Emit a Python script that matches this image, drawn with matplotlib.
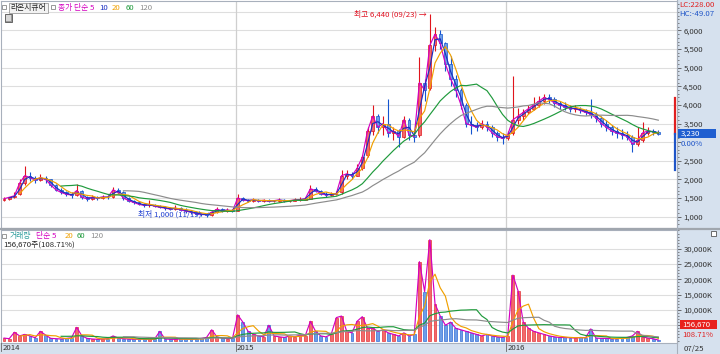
import numpy as np
import pandas as pd
import matplotlib
matplotlib.use('Agg')
import matplotlib.pyplot as plt
from matplotlib.patches import Rectangle
from matplotlib.lines import Line2D
from matplotlib.ticker import FuncFormatter, MultipleLocator, FixedLocator
from matplotlib.transforms import blended_transform_factory

plt.rcParams['font.family'] = ['Noto Sans CJK KR', 'DejaVu Sans']

# ---------------- data (weekly bars) ----------------
opens = [1450,1480,1520,1600,1900,2100,2050,1980,2050,2000,
         1850,1720,1650,1600,1580,1700,1520,1480,1520,1500,
         1530,1520,1720,1650,1500,1430,1380,1330,1300,1320,
         1280,1250,1230,1200,1230,1180,1150,1120,1080,1060,
         1050,1120,1200,1150,1180,1160,1500,1450,1430,1450,
         1420,1440,1410,1430,1450,1420,1430,1450,1460,1480,
         1750,1700,1620,1580,1600,1650,2100,2150,2100,2300,
         2650,3300,3700,3400,3500,3250,3300,3150,3600,3200,
         3200,4600,4450,5600,5900,5650,5100,4700,4400,4000,
         3500,3450,3400,3500,3400,3250,3150,3100,3250,3600,
         3700,3800,3900,4000,4100,4200,4150,4050,4000,3950,
         3900,3900,3850,3800,3750,3650,3500,3400,3300,3250,
         3200,3150,2950,3050,3250,3300,3280]
closes = [1480,1520,1560,1900,2100,2050,1980,2050,2000,1850,
          1720,1650,1600,1580,1700,1520,1480,1520,1500,1530,
          1520,1720,1650,1500,1430,1380,1330,1300,1320,1280,
          1250,1230,1200,1230,1180,1150,1120,1080,1060,1050,
          1120,1200,1150,1180,1150,1500,1450,1430,1450,1420,
          1440,1410,1430,1450,1420,1430,1450,1460,1480,1750,
          1700,1620,1580,1600,1620,2100,2150,2100,2300,2600,
          3300,3700,3400,3500,3250,3300,3150,3600,3200,3150,
          4600,4400,5600,5900,5650,5100,4700,4400,4000,3500,
          3450,3400,3500,3400,3250,3150,3100,3200,3600,3700,
          3800,3900,4000,4100,4200,4150,4050,4000,3950,3900,
          3900,3850,3800,3750,3650,3500,3400,3300,3250,3200,
          3150,2950,3050,3250,3300,3280,3230]
highs = [1520,1540,1650,2000,2350,2200,2100,2150,2080,2020,
         1880,1760,1700,1650,1880,1720,1560,1580,1560,1580,
         1570,1790,1760,1680,1520,1460,1420,1360,1440,1340,
         1310,1290,1250,1300,1260,1220,1180,1150,1110,1100,
         1150,1260,1220,1230,1210,1620,1540,1480,1490,1480,
         1480,1470,1460,1500,1480,1460,1500,1520,1530,1850,
         1800,1720,1650,1660,1680,2250,2260,2200,2400,2650,
         3400,3990,3750,3700,4160,3400,3350,3700,3650,3300,
         5280,4700,6440,6100,6000,5700,5300,4800,4450,4050,
         3700,3550,3600,3570,3450,3300,3250,3300,4780,3930,
         3900,4000,4200,4250,4300,4280,4200,4100,4080,4000,
         4000,3950,3900,4150,3800,3700,3600,3450,3400,3350,
         3300,3200,3400,3550,3400,3350,3320]
lows = [1430,1450,1500,1580,1850,1950,1900,1950,1900,1800,
        1680,1600,1550,1500,1560,1480,1420,1460,1450,1480,
        1480,1500,1600,1460,1400,1340,1300,1260,1270,1250,
        1220,1190,1170,1180,1150,1110,1080,1040,1030,1000,
        1030,1100,1120,1130,1120,1150,1420,1400,1400,1390,
        1390,1380,1390,1400,1390,1390,1410,1420,1440,1470,
        1650,1580,1540,1550,1570,1620,2000,2000,2080,2250,
        2600,3200,3250,3200,3150,3050,2870,3100,3050,3000,
        3150,4100,4400,5450,5500,4900,4500,4200,3900,3400,
        3220,3300,3350,3300,3150,3040,2950,3050,3200,3480,
        3600,3750,3850,3950,4020,4050,3950,3900,3850,3800,
        3800,3780,3720,3650,3550,3400,3300,3200,3100,3080,
        3050,2730,2900,3000,3200,3200,3200]
volumes_k = [800,600,2700,1500,2000,1500,900,3000,1800,700,
             600,500,700,900,4300,1500,700,500,400,500,
             600,1500,800,600,500,400,400,500,400,500,
             3000,500,400,400,500,400,400,500,700,1000,
             3500,1200,800,600,700,8400,6000,3000,2000,1500,
             1200,5000,1500,1200,1000,1500,1200,1800,1500,6300,
             3000,1500,1200,2000,7500,8000,3000,2500,6300,7800,
             4000,4000,3000,3500,2500,2000,1500,2500,1500,2000,
             25800,16000,33000,12000,8000,5000,6000,4000,3500,3000,
             2500,2000,1500,2000,1500,1200,1000,1500,21400,16200,
             6000,4000,3000,2500,2000,1500,1200,1000,1000,900,
             800,1000,900,3800,800,700,700,600,600,800,
             1000,1500,3000,1200,800,600,157]

price_ma_days = [5, 10, 20, 60, 120]
vol_ma_days = [5, 20, 60, 120]
year_labels = ['2014', '2015', '2016']
year_pos = [-0.55, 44.6, 96.7]
price_ticks = [1000,1500,2000,2500,3000,3500,4000,4500,5000,5500,6000]
vol_ticks = [5000,10000,15000,20000,25000,30000]
limit_up, limit_down = 4195, 2265
last_price, last_vol = 3230, 156670

# ---------------- figure ----------------
W, H = 720, 354
fig = plt.figure(figsize=(7.2, 3.54), dpi=100)
def fr(x0, y0, x1, y1):
    return [x0 / W, 1 - y1 / H, (x1 - x0) / W, (y1 - y0) / H]
def fx(x): return x / W
def fy(y): return 1 - y / H

PANEL = '#d6e1ee'
fig.patches.append(Rectangle((fx(677), 0), 1 - fx(677), 1, transform=fig.transFigure,
                             facecolor=PANEL, edgecolor='none', zorder=-2))
fig.patches.append(Rectangle((0, 0), fx(677), fy(343), transform=fig.transFigure,
                             facecolor=PANEL, edgecolor='none', zorder=-2))

ax = fig.add_axes(fr(1, 1, 677, 228))
axv = fig.add_axes(fr(1, 230, 677, 343), sharex=ax)

O = np.array(opens, float); C = np.array(closes, float)
Hh = np.array(highs, float); L = np.array(lows, float)
V = np.array(volumes_k, float)
n = len(C)
x = np.arange(n)
up = C >= O
UP_E, UP_F = '#e0141c', '#f26a6a'
DN_E, DN_F = '#1455d0', '#6c9ee6'
edge = np.where(up, UP_E, DN_E)
face = np.where(up, UP_F, DN_F)

for a in (ax, axv):
    a.set_facecolor('white')
    for s in a.spines.values():
        s.set_color('#a8b0bc'); s.set_linewidth(0.8)

# grids
for t in price_ticks + [6500]:
    ax.axhline(t, color='#dedede', lw=0.8, zorder=0)
for t in vol_ticks:
    axv.axhline(t, color='#dedede', lw=0.8, zorder=0)
for p in year_pos[1:]:
    ax.axvline(p, color='#cfcfcf', lw=0.9, zorder=0)
    axv.axvline(p, color='#cfcfcf', lw=0.9, zorder=0)

# candles
ax.vlines(x, L, Hh, colors=edge, lw=0.8, zorder=2)
body = np.maximum(np.abs(C - O), 12)
ax.bar(x, body, bottom=np.minimum(O, C), width=0.55, color=face,
       edgecolor=edge, linewidth=0.5, zorder=3)

ma_colors = ['#d400c0', '#1b2fc2', '#f0a000', '#1f9a3c', '#8c8c8c']
cs = pd.Series(C)
for d, col in zip(price_ma_days, ma_colors):
    w = max(1, int(round(d / 5)))
    ax.plot(x, cs.rolling(w).mean(), color=col, lw=0.85, zorder=4)

# volume
axv.bar(x, V, width=0.55, color=face, edgecolor=edge, linewidth=0.4, zorder=2)
vs = pd.Series(V)
vma_colors = ['#d400c0', '#f0a000', '#1f9a3c', '#8c8c8c']
for d, col in zip(vol_ma_days, vma_colors):
    w = max(1, int(round(d / 5)))
    axv.plot(x, vs.rolling(w).mean(), color=col, lw=0.85, zorder=3)

# limits
ax.set_xlim(-0.58, 129.6)
ax.set_ylim(695, 6790)
axv.set_ylim(-811, 36160)

FS = 5.6
# labels hidden under the current-value boxes (as in the reference)
hidden = {last_price // 1000 * 1000, 5000}
def pfmt(v, p):
    return '' if int(v) == 3000 else f'{int(v):,}'
def vfmt(v, p):
    return '' if int(v) == 5000 else f'{int(v):,}K'
for a, ticks, fmt in ((ax, price_ticks, pfmt), (axv, vol_ticks, vfmt)):
    a.yaxis.tick_right()
    a.yaxis.set_major_locator(FixedLocator(ticks))
    a.yaxis.set_major_formatter(FuncFormatter(fmt))
    a.tick_params(axis='y', which='major', direction='out', length=3, width=0.6,
                  color='#555555', labelsize=FS, labelcolor='#333333', pad=1.5)
    a.tick_params(axis='y', which='minor', direction='out', length=1.5, width=0.5,
                  color='#555555')
    a.tick_params(axis='x', length=0, labelbottom=False)
ax.yaxis.set_minor_locator(MultipleLocator(100))
axv.yaxis.set_minor_locator(MultipleLocator(1000))

# price limit band at right edge
tr = blended_transform_factory(ax.transAxes, ax.transData)
ax.plot([0.9975, 0.9975], [last_price, limit_up], color='#e02020', lw=1.6, transform=tr, zorder=5)
ax.plot([0.9975, 0.9975], [limit_down, last_price], color='#1f55c8', lw=1.6, transform=tr, zorder=5)

# annotations
ax.text(81.4, 6440, '최고 6,440 (09/23) →', ha='right', va='center', fontsize=FS,
        color='#e01020', zorder=6)
ax.text(39.8, 1060, '최저 1,000 (11/19) →', ha='right', va='center', fontsize=FS,
        color='#1f3fd0', zorder=6)

# separator
fig.add_artist(Line2D([0, 1], [fy(229), fy(229)], color='#a0a6ae', lw=1.6))
fig.add_artist(Line2D([fx(677), fx(677)], [0, 1], color='#a8b0bc', lw=0.8))

# header (price)
def box(x0, y0, w, h, fc='white', ec='#888888', lw=0.6):
    fig.patches.append(Rectangle((fx(x0), fy(y0 + h)), w / W, h / H, transform=fig.transFigure,
                                 facecolor=fc, edgecolor=ec, linewidth=lw, zorder=5))
box(2, 5, 4, 4)
box(9, 3, 39, 10, fc='#f2f2f2', ec='#9a9a9a')
fig.text(fx(28.5), fy(8), '라온시큐어', ha='center', va='center', fontsize=FS, color='#222222', zorder=6)
box(51, 5, 4, 4)
hx = 58
for s, col in (('종가 단순 5', '#d400c0'), ('10', '#1b2fc2'), ('20', '#f0a000'),
               ('60', '#1f9a3c'), ('120', '#8c8c8c')):
    t = fig.text(fx(hx), fy(8), s, ha='left', va='center', fontsize=FS, color=col)
    hx += {'종가 단순 5': 41, '10': 13, '20': 14, '60': 13, '120': 14}[s]
box(5, 14, 7, 8, fc='#9a9a9a', ec='#555555')
box(6.5, 15.5, 4, 5, fc='#d8d8d8', ec='none')

# header (volume)
box(2, 234, 4, 4)
vx = 10
for s, col, wdt in (('거래량', '#2a9a9a', 26), ('단순 5', '#d400c0', 29), ('20', '#f0a000', 12),
                    ('60', '#1f9a3c', 13), ('120', '#8c8c8c', 14)):
    fig.text(fx(vx), fy(236), s, ha='left', va='center', fontsize=FS, color=col)
    vx += wdt
fig.text(fx(3), fy(244.5), '156,670주(108.71%)', ha='left', va='center', fontsize=FS, color='#222222')

# right panel texts
fig.text(fx(679), fy(5), 'LC:228.00', ha='left', va='center', fontsize=FS, color='#e02020')
fig.text(fx(679), fy(14), 'HC:-49.07', ha='left', va='center', fontsize=FS, color='#1f55c8')
py = ax.transData.transform((0, last_price))[1]
pyf = fig.transFigure.inverted().transform((0, py))[1]
fig.patches.append(Rectangle((fx(678), pyf - 4.5 / H), 38 / W, 9 / H, transform=fig.transFigure,
                             facecolor='#1f5fd0', edgecolor='none', zorder=5))
fig.text(fx(681), pyf, f'{last_price:,}', ha='left', va='center', fontsize=FS, color='white', zorder=6)
fig.text(fx(681), pyf - 10.5 / H, '0.00%', ha='left', va='center', fontsize=FS, color='#1f55c8')

fig.patches.append(Rectangle((fx(680), fy(329)), 37 / W, 9 / H, transform=fig.transFigure,
                             facecolor='#e8221e', edgecolor='none', zorder=5))
fig.text(fx(682), fy(324.5), f'{last_vol:,}', ha='left', va='center', fontsize=FS, color='white', zorder=6)
fig.text(fx(682), fy(335), '108.71%', ha='left', va='center', fontsize=FS, color='#e02020')
box(711, 231, 5, 5, fc='#ffffff', ec='#555555')

# x labels
for lab, p in zip(year_labels, year_pos):
    xp = ax.transData.transform((p, 0))[0]
    xf = fig.transFigure.inverted().transform((xp, 0))[0]
    fig.add_artist(Line2D([xf, xf], [fy(343), fy(351)], color='#666666', lw=0.6))
    fig.text(xf + 1.5 / W, fy(348.5), lab, ha='left', va='center', fontsize=FS, color='#333333')
fig.text(fx(684), fy(348.5), '07/25', ha='left', va='center', fontsize=FS, color='#333333')

fig.savefig('out.png', dpi=100)
